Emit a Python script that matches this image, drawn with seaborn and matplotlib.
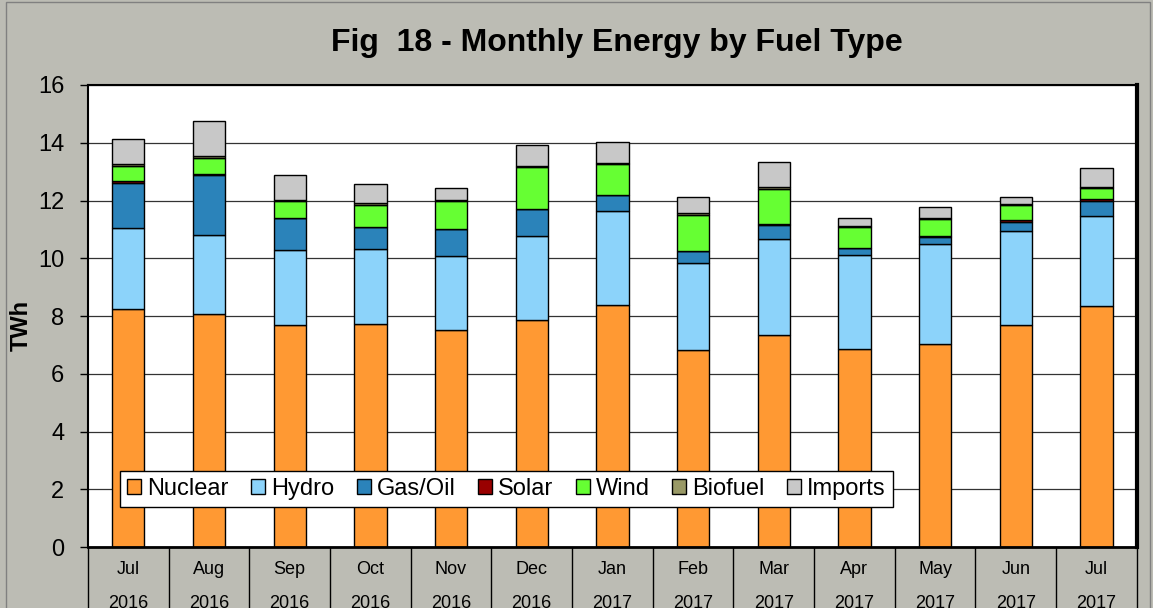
import numpy as np
import seaborn as sns
import matplotlib.pyplot as plt
from matplotlib.patches import Patch, Rectangle

# Data (TWh)
months = ["Jul\n2016", "Aug\n2016", "Sep\n2016", "Oct\n2016", "Nov\n2016", "Dec\n2016",
          "Jan\n2017", "Feb\n2017", "Mar\n2017", "Apr\n2017", "May\n2017", "Jun\n2017", "Jul\n2017"]
nuclear = [8.23, 8.07, 7.69, 7.72, 7.53, 7.87, 8.39, 6.81, 7.34, 6.86, 7.04, 7.68, 8.33]
hydro = [2.82, 2.72, 2.58, 2.61, 2.56, 2.90, 3.24, 3.01, 3.32, 3.27, 3.46, 3.26, 3.13]
gas_oil = [1.56, 2.11, 1.11, 0.75, 0.92, 0.92, 0.56, 0.43, 0.49, 0.23, 0.25, 0.32, 0.52]
solar = [0.07, 0.03, 0.02, 0.01, 0.01, 0.01, 0.01, 0.01, 0.04, 0.01, 0.02, 0.06, 0.06]
wind = [0.53, 0.55, 0.59, 0.76, 0.97, 1.46, 1.06, 1.25, 1.22, 0.72, 0.58, 0.51, 0.38]
biofuel = [0.05, 0.05, 0.04, 0.05, 0.04, 0.04, 0.05, 0.05, 0.05, 0.04, 0.04, 0.04, 0.05]
imports = [0.88, 1.24, 0.85, 0.66, 0.39, 0.72, 0.72, 0.57, 0.87, 0.26, 0.38, 0.26, 0.66]

fuels = ["Nuclear", "Hydro", "Gas/Oil", "Solar", "Wind", "Biofuel", "Imports"]
series = [nuclear, hydro, gas_oil, solar, wind, biofuel, imports]
colors = ["#ff9933", "#8cd3fa", "#2b83ba", "#990000", "#66ff33", "#999966", "#c8c8c8"]

plt.rcParams["font.family"] = ["Liberation Sans", "DejaVu Sans"]
bg = "#bcbcb4"

fig = plt.figure(figsize=(11.53, 6.08), dpi=100, facecolor=bg)
ax = fig.add_axes([0.0763, 0.1003, 0.9097, 0.7599])
ax.set_facecolor("white")

# Stacked bars
bottom = np.zeros(len(months))
for name, vals, c in zip(fuels, series, colors):
    sns.barplot(x=months, y=vals, bottom=bottom, color=c, saturation=1, width=0.4,
                edgecolor="black", linewidth=1, errorbar=None, ax=ax)
    bottom = bottom + np.array(vals)

ax.set_ylim(0, 16)
ax.set_xlim(-0.5, len(months) - 0.5)
ax.set_yticks(range(0, 17, 2))
ax.yaxis.grid(True, color="#333333", linewidth=0.9)
ax.set_axisbelow(True)

ax.tick_params(axis="y", direction="out", length=6, width=1, labelsize=17, pad=11)
ax.tick_params(axis="x", which="major", length=0, labelsize=13, pad=10)
ax.set_xticks(range(len(months)))
ax.set_xticklabels(months, linespacing=2.3)
# category separators below the axis
ax.set_xticks(np.arange(-0.5, len(months)), minor=True)
ax.tick_params(axis="x", which="minor", direction="out", length=60, width=1, color="black")

for s in ["left", "top", "bottom"]:
    ax.spines[s].set_linewidth(1.5)
ax.spines["bottom"].set_linewidth(2)
ax.spines["right"].set_linewidth(3)

ax.set_xlabel("")
ax.set_ylabel("TWh", fontsize=17, fontweight="bold")
ax.yaxis.set_label_coords(-0.053, 0.48)

fig.text(0.535, 0.93, "Fig  18 - Monthly Energy by Fuel Type", ha="center", va="center",
         fontsize=23, fontweight="bold")

handles = [Patch(facecolor=c, edgecolor="black", linewidth=1, label=n) for n, c in zip(fuels, colors)]
leg = ax.legend(handles=handles, loc="lower left", bbox_to_anchor=(0.0305, 0.0866), ncol=7,
                fontsize=17, frameon=True, fancybox=False, framealpha=1, edgecolor="black",
                handlelength=0.6, handleheight=0.6, handletextpad=0.25, columnspacing=0.95,
                borderpad=0.3, borderaxespad=0)
leg.get_frame().set_linewidth(1)

fig.patches.append(Rectangle((0.005, -0.1), 0.992, 1.097, transform=fig.transFigure,
                             fill=False, edgecolor="#808080", linewidth=1))

fig.savefig("out.png", dpi=100, facecolor=bg)
